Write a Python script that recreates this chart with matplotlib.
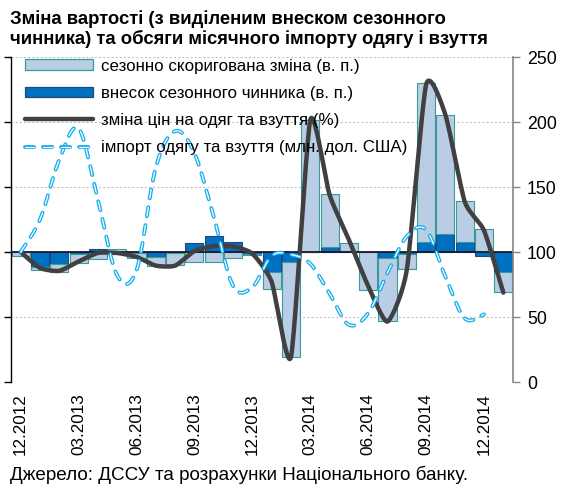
import matplotlib
matplotlib.use("Agg")
import matplotlib.pyplot as plt
from matplotlib.patches import Patch
from matplotlib.lines import Line2D
import numpy as np

plt.rcParams['font.family'] = ['Liberation Sans', 'DejaVu Sans']
plt.rcParams['lines.scale_dashes'] = False

# ---------------- data ----------------
months = ["12.2012", "01.2013", "02.2013", "03.2013", "04.2013", "05.2013", "06.2013",
          "07.2013", "08.2013", "09.2013", "10.2013", "11.2013", "12.2013",
          "01.2014", "02.2014", "03.2014", "04.2014", "05.2014", "06.2014",
          "07.2014", "08.2014", "09.2014", "10.2014", "11.2014", "12.2014", "01.2015"]
tick_labels = ["12.2012", "03.2013", "06.2013", "09.2013", "12.2013",
               "03.2014", "06.2014", "09.2014", "12.2014"]

# seasonally adjusted change (p.p.)
sa_change = [-0.13, -0.10, -0.23, -0.30, -0.20, 0.08, -0.15, -0.29, -0.37, -0.32,
             -0.32, -0.19, -0.05, -0.54, -2.90, 4.05, 1.64, 0.26, -1.18, -1.93,
             -0.47, 4.90, 3.69, 1.27, 0.72, -0.60]
# seasonal factor contribution (p.p.)
seasonal = [0.00, -0.45, -0.37, -0.05, 0.10, -0.05, -0.02, -0.15, -0.03, 0.29,
            0.48, 0.31, -0.05, -0.60, -0.32, 0.00, 0.15, 0.02, 0.00, -0.19,
            -0.05, 0.31, 0.54, 0.31, -0.12, -0.63]
# price change for clothing & footwear (%)
price_change = [0.00, -0.49, -0.58, -0.29, -0.03, -0.03, -0.15, -0.42, -0.42, 0.03,
                0.18, 0.17, -0.05, -0.92, -3.23, 4.06, 1.76, 0.38, -1.05, -2.14,
                -0.55, 5.15, 4.22, 1.55, 0.66, -1.25]
# import of clothing & footwear (mln USD)
imports = [100, 125, 171, 195, 140, 82, 86, 165, 193, 176, 127, 74, 73,
           97, 98, 91, 68, 44, 53, 84, 112, 117, 81, 49, 52, None]

labels = ["сезонно скоригована зміна (в. п.)",
          "внесок сезонного чинника (в. п.)",
          "зміна цін на одяг та взуття (%)",
          "імпорт одягу та взуття (млн. дол. США)"]

title = ("Зміна вартості (з виділеним внеском сезонного\n"
         "чинника) та обсяги місячного імпорту одягу і взуття")
source = "Джерело: ДССУ та розрахунки Національного банку."

# ---------------- helpers ----------------
def smooth(xs, ys, k=1 / 6.0, n=24):
    xs = np.asarray(xs, float)
    ys = np.asarray(ys, float)
    P = np.column_stack([xs, ys])
    out = []
    m = len(P)
    for i in range(m - 1):
        p0 = P[i]
        p3 = P[i + 1]
        pm = P[i - 1] if i > 0 else P[i]
        pp = P[i + 2] if i + 2 < m else P[i + 1]
        c1 = p0 + (p3 - pm) * k
        c2 = p3 - (pp - p0) * k
        t = np.linspace(0, 1, n)[:, None]
        seg = ((1 - t) ** 3) * p0 + 3 * ((1 - t) ** 2) * t * c1 + 3 * (1 - t) * t ** 2 * c2 + t ** 3 * p3
        if i > 0:
            seg = seg[1:]
        out.append(seg)
    out = np.vstack(out)
    return out[:, 0], out[:, 1]

# ---------------- figure ----------------
fig = plt.figure(figsize=(5.61, 4.90), dpi=100)
ax = fig.add_axes([11 / 561, 108 / 490, 502 / 561, 325 / 490])
ax2 = ax.twinx()

x = np.arange(len(months))
sa = np.array(sa_change)
se = np.array(seasonal)

light_fc = "#B9CDE5"
light_ec = "#3A9A9A"
dark_fc = "#0070C0"
dark_ec = "#1F497D"
line_c = "#404040"
imp_c = "#13AEEF"

# stacked bars: seasonal first (adjacent to zero), adjusted stacked after
light_bottom = np.where(np.sign(sa) == np.sign(se), se, 0.0)
w = 0.94
ax.bar(x, se, width=w, color=dark_fc, edgecolor=dark_ec, linewidth=0.8, zorder=2)
ax.bar(x, sa, bottom=light_bottom, width=w, color=light_fc, edgecolor=light_ec,
       linewidth=0.8, zorder=2)

ax.axhline(0, color="#1a1a2e", lw=1.3, zorder=3)

sx, sy = smooth(x, price_change, k=0.1)
ax.plot(sx, sy, color=line_c, lw=3.2, solid_capstyle="round", solid_joinstyle="round", zorder=4)

ix = [xi for xi, v in zip(x, imports) if v is not None]
iv = [v for v in imports if v is not None]
isx, isy = smooth(ix, iv)
dash = (0, (6.5, 6.5))
ax2.plot(isx, isy, color=imp_c, lw=2.8, linestyle=dash, dash_capstyle="round", zorder=5)
ax2.plot(isx, isy, color="white", lw=0.9, linestyle=dash, dash_capstyle="round", zorder=6)

# axes
ax.set_xlim(-0.5, len(months) - 0.5)
ax.set_ylim(-4, 6)
ax.set_yticks([-4, -2, 0, 2, 4, 6])
ax.set_yticklabels([])
ax.tick_params(axis="y", direction="out", length=5, width=1, color="black")
ax.yaxis.grid(True, color="#BFBFBF", linestyle=(0, (1.5, 1.5)), linewidth=0.8)
ax.set_axisbelow(True)

ax.set_xticks([months.index(t) for t in tick_labels])
ax.set_xticklabels(tick_labels, rotation=90, fontsize=12.3)
ax.tick_params(axis="x", length=0, pad=8)

ax2.set_ylim(0, 250)
ax2.set_yticks([0, 50, 100, 150, 200, 250])
ax2.tick_params(axis="y", direction="out", length=5, width=1, color="#868686",
                labelsize=12.8, pad=5)

for a in (ax, ax2):
    a.spines["top"].set_visible(False)
    a.spines["bottom"].set_visible(False)
ax.spines["right"].set_visible(False)
ax2.spines["left"].set_visible(False)
ax.spines["left"].set_color("black")
ax.spines["left"].set_linewidth(1.0)
ax2.spines["right"].set_color("#868686")
ax2.spines["right"].set_linewidth(1.2)

# legend
handles = [
    Patch(facecolor=light_fc, edgecolor=light_ec, linewidth=0.9),
    Patch(facecolor=dark_fc, edgecolor=dark_ec, linewidth=0.9),
    Line2D([0], [0], color=line_c, lw=3.2, solid_capstyle="round"),
    (Line2D([0], [0], color=imp_c, lw=2.8, linestyle=dash, dash_capstyle="round"),
     Line2D([0], [0], color="white", lw=0.9, linestyle=dash, dash_capstyle="round")),
]
leg = ax2.legend(handles, labels, loc="upper left", bbox_to_anchor=(0.025, 1.0),
                 frameon=False, fontsize=12.2, handlelength=4.0, handletextpad=0.45,
                 labelspacing=0.72, borderpad=0.1, borderaxespad=0, handleheight=0.6)
leg.set_zorder(10)

fig.text(10 / 561, 1 - 10 / 490, title, ha="left", va="top", fontsize=13.3,
         fontweight="bold", linespacing=1.18)
fig.text(10 / 561, 1 - 484 / 490, source, ha="left", va="bottom", fontsize=13.6)

fig.savefig("out.png", dpi=100)
